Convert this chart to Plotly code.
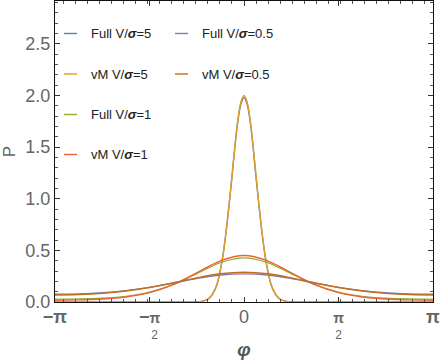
import plotly.graph_objects as go

# ---------------- data ----------------
phi_wide = [-3.1416, -2.7489, -2.3562, -1.9635, -1.5708, -1.1781, -0.7854, -0.3927, 0.0,
            0.3927, 0.7854, 1.1781, 1.5708, 1.9635, 2.3562, 2.7489, 3.1416]

full_1 = [0.028, 0.030, 0.037, 0.055, 0.095, 0.168, 0.275, 0.382, 0.427,
          0.382, 0.275, 0.168, 0.095, 0.055, 0.037, 0.030, 0.028]
vm_1 = [0.016, 0.021, 0.029, 0.049, 0.091, 0.168, 0.282, 0.399, 0.450,
        0.399, 0.282, 0.168, 0.091, 0.049, 0.029, 0.021, 0.016]
full_05 = [0.075, 0.078, 0.089, 0.110, 0.142, 0.184, 0.228, 0.261, 0.272,
           0.261, 0.228, 0.184, 0.142, 0.110, 0.089, 0.078, 0.075]
vm_05 = [0.068, 0.072, 0.084, 0.107, 0.140, 0.185, 0.234, 0.273, 0.288,
         0.273, 0.234, 0.185, 0.140, 0.107, 0.084, 0.072, 0.068]

phi_narrow = [-3.1416, -1.2, -1.0, -0.8, -0.7, -0.6, -0.55, -0.5, -0.45, -0.4, -0.35, -0.3,
              -0.25, -0.2, -0.15, -0.1, -0.05, 0.0, 0.05, 0.1, 0.15, 0.2, 0.25, 0.3,
              0.35, 0.4, 0.45, 0.5, 0.55, 0.6, 0.7, 0.8, 1.0, 1.2, 3.1416]
full_5 = [0.0, 0.0, 0.0, 0.001, 0.006, 0.028, 0.054, 0.10, 0.17, 0.29, 0.45, 0.67,
          0.93, 1.21, 1.51, 1.76, 1.92, 1.98, 1.92, 1.76, 1.51, 1.21, 0.93, 0.67,
          0.45, 0.29, 0.17, 0.10, 0.054, 0.028, 0.006, 0.001, 0.0, 0.0, 0.0]
vm_5 = [0.0, 0.0, 0.0, 0.001, 0.006, 0.027, 0.053, 0.10, 0.17, 0.29, 0.45, 0.67,
        0.93, 1.22, 1.52, 1.77, 1.94, 2.00, 1.94, 1.77, 1.52, 1.22, 0.93, 0.67,
        0.45, 0.29, 0.17, 0.10, 0.053, 0.027, 0.006, 0.001, 0.0, 0.0, 0.0]

series_names = ["Full V/<b><i>σ</i></b>=5", "vM V/<b><i>σ</i></b>=5",
                "Full V/<b><i>σ</i></b>=1", "vM V/<b><i>σ</i></b>=1",
                "Full V/<b><i>σ</i></b>=0.5", "vM V/<b><i>σ</i></b>=0.5"]
series_x = [phi_narrow, phi_narrow, phi_wide, phi_wide, phi_wide, phi_wide]
series_y = [full_5, vm_5, full_1, vm_1, full_05, vm_05]
colors = ["#5E81B5", "#E19C24", "#8FB032", "#EB6235", "#8778B3", "#C56E1A"]

x_tickvals = [-3.14159265, -1.57079633, 0.0, 1.57079633, 3.14159265]
x_ticktext = ["<span style='font-size:18px'><b>−π</b></span>",
              "<span style='font-size:18px'><b>−</b></span><span style='font-size:14px'><b>π</b></span><br><span style='font-size:12px'>\u00a0\u00a0\u00a02</span>",
              "<span style='font-size:18px'>0</span>",
              "<span style='font-size:14px'><b>π</b></span><br><span style='font-size:12px'>2</span>",
              "<span style='font-size:18px'><b>π</b></span>"]
y_tickvals = [0.0, 0.5, 1.0, 1.5, 2.0, 2.5]
y_ticktext = ["0.0", "0.5", "1.0", "1.5", "2.0", "2.5"]

# ---------------- figure ----------------
W, H = 443, 360
ML, MR, MT, MB = 55, 10, 1, 58
PW, PH = W - ML - MR, H - MT - MB

fig = go.Figure()
for nm, xs, ys, c in zip(series_names, series_x, series_y, colors):
    fig.add_trace(go.Scatter(x=xs, y=ys, mode="lines", name=nm,
                             line=dict(color=c, width=1.4, shape="spline", smoothing=1.0),
                             showlegend=False, hoverinfo="skip"))

# custom legend laid out like the original (two columns)
legend_pos = [(64, 33.5), (64, 74), (64, 114.5), (64, 154.5), (175, 33.5), (175, 74)]
def px2paper(px, py):
    return (px - ML) / PW, (MT + PH - py) / PH
for nm, c, (lx, ly) in zip(series_names, colors, legend_pos):
    x0, y0 = px2paper(lx, ly)
    x1, _ = px2paper(lx + 13, ly)
    fig.add_shape(type="line", xref="paper", yref="paper", x0=x0, x1=x1, y0=y0, y1=y0,
                  line=dict(color=c, width=1.4))
    tx, _ = px2paper(lx + 25, ly)
    fig.add_annotation(xref="paper", yref="paper", x=tx, y=y0, text=nm, showarrow=False,
                       xanchor="left", yanchor="middle",
                       font=dict(size=13, color="#222222", family="Liberation Sans, Arial"))

axis_common = dict(showline=True, linecolor="#111111", linewidth=1, mirror="allticks",
                   ticks="inside", ticklen=5, tickcolor="#333333", tickwidth=1,
                   showgrid=False, zeroline=False)

fig.update_xaxes(range=[-3.14159265, 3.14159265], tickmode="array",
                 tickvals=x_tickvals, ticktext=x_ticktext, ticklabelstandoff=6,
                 tickfont=dict(size=12, color="#666666", family="Liberation Sans, Arial"),
                 minor=dict(tickmode="linear", tick0=0, dtick=0.2, ticklen=3,
                            ticks="inside", tickcolor="#555555"),
                 title=dict(text="<b><i>φ</i></b>", standoff=2,
                            font=dict(size=19, color="#555555", family="Liberation Sans, Arial")),
                 **axis_common)
fig.update_yaxes(range=[0, 2.915], tickmode="array",
                 tickvals=y_tickvals, ticktext=y_ticktext,
                 tickfont=dict(size=18, color="#666666", family="Liberation Sans, Arial"),
                 minor=dict(tickmode="linear", tick0=0, dtick=0.1, ticklen=3,
                            ticks="inside", tickcolor="#555555"),
                 title=dict(text="P", standoff=8,
                            font=dict(size=17, color="#666666", family="Liberation Sans, Arial")),
                 **axis_common)

fig.update_layout(width=W, height=H, margin=dict(l=ML, r=MR, t=MT, b=MB, autoexpand=False),
                  plot_bgcolor="white", paper_bgcolor="white", showlegend=False)

fig.write_html("out.html", config={"displayModeBar": False},
               post_script="document.body.style.margin='0';document.body.style.padding='0';")
